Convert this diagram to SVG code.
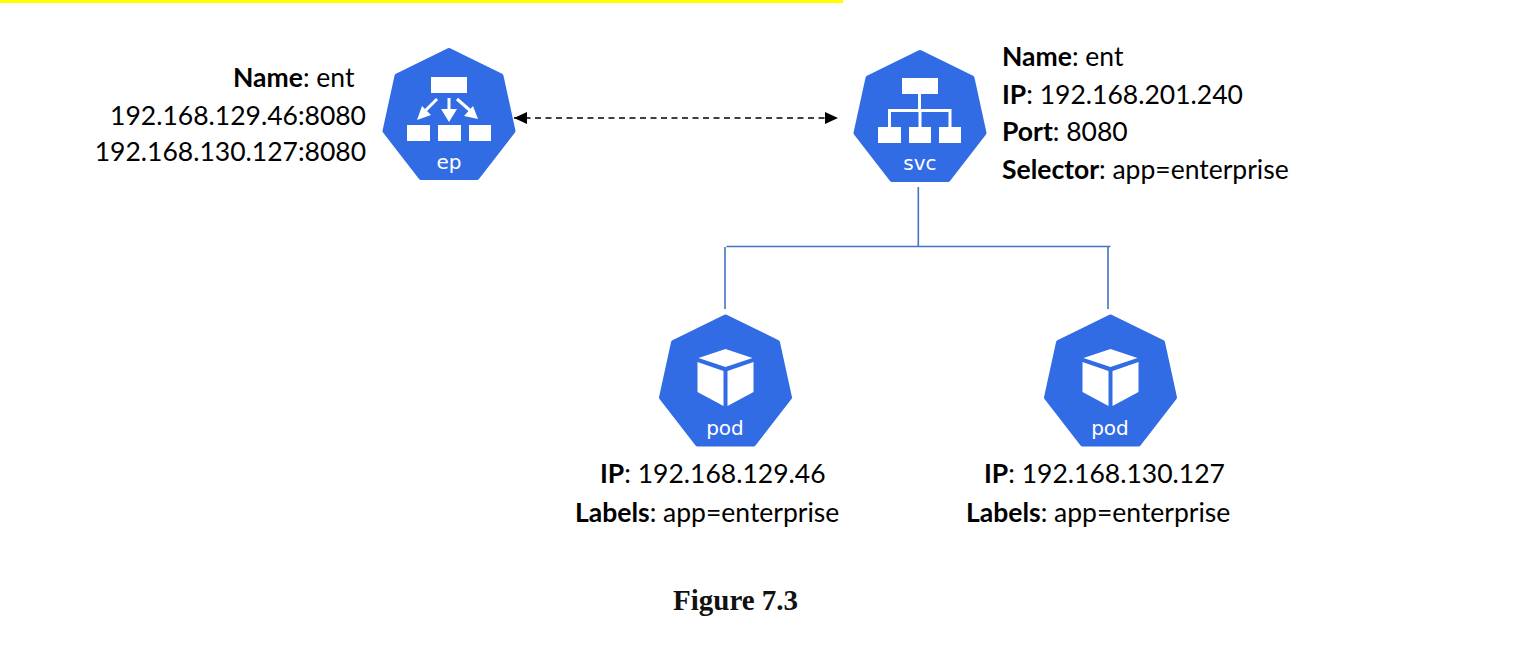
<svg xmlns="http://www.w3.org/2000/svg" width="1540" height="661" viewBox="0 0 1540 661">
<style>
.t{font-family:Lato,"Liberation Sans",sans-serif;font-size:26.5px;fill:#000}
.b{font-weight:700}
.h{fill:#326ce5;stroke:#326ce5;stroke-width:5;stroke-linejoin:round}
.k{font-family:"DejaVu Sans","Liberation Sans",sans-serif;font-size:20px;fill:#fff;text-anchor:middle}
.w{fill:#fff}
.wl{fill:none;stroke:#fff;stroke-width:3}
.c{fill:none;stroke:#4472c4;stroke-width:1.6}
</style>
<defs>
<polygon id="hept" class="h" points="0,2.5 52,28 64,83 28,129.500 -28,129.500 -64,83 -52,28"/>
<marker id="ah" markerUnits="userSpaceOnUse" markerWidth="14" markerHeight="14" refX="13" refY="7" orient="auto-start-reverse"><path d="M0,1 L13,7 L0,13 Z" fill="#000"/></marker>
<g id="cube">
<path class="w" d="M0,-21 L27,-12 L0,-3 L-27,-12 Z"/>
<path class="w" d="M-28,-8 L-2,1 L-2,36 L-28,22 Z"/>
<path class="w" d="M28,-8 L2,1 L2,36 L28,22 Z"/>
</g>
</defs>
<rect id="highlight" x="0" y="0" width="843" height="3" fill="#ffff00"/>
<g id="connectors">
<path class="c" d="M918.300 187V246"/>
<path class="c" d="M726.500 246.500H1110.500"/>
<path class="c" d="M725 247V309"/>
<path class="c" d="M1108 247V309"/>
<line x1="514" y1="118" x2="838" y2="118" stroke="#000" stroke-width="1.300" stroke-dasharray="6 4.500" marker-start="url(#ah)" marker-end="url(#ah)"/>
</g>
<g id="node-ep">
<use href="#hept" x="449" y="48"/>
<rect class="w" x="431" y="77" width="36" height="16"/>
<rect class="w" x="407" y="125" width="23" height="16"/>
<rect class="w" x="438" y="125" width="23" height="16"/>
<rect class="w" x="469" y="125" width="22" height="16"/>
<path class="wl" d="M437,99 L424,112"/><path class="w" d="M417,120 L422,106 L431,115 Z"/>
<path class="wl" d="M449,98 L449,110"/><path class="w" d="M449,122 L441,109 L457,109 Z"/>
<path class="wl" d="M457,99 L473,113"/><path class="w" d="M478,119 L464,116 L473,106 Z"/>
<text class="k" x="449" y="169">ep</text>
<text class="t b" x="233" y="87">Name<tspan font-weight="400">: ent</tspan></text>
<text class="t" x="366" y="125" text-anchor="end">192.168.129.46:8080</text>
<text class="t" x="366" y="161" text-anchor="end">192.168.130.127:8080</text>
</g>
<g id="node-svc">
<use href="#hept" x="920" y="50"/>
<rect class="w" x="902" y="78" width="36" height="16"/>
<rect class="w" x="878" y="127" width="23" height="16"/>
<rect class="w" x="909" y="127" width="22" height="16"/>
<rect class="w" x="939" y="127" width="22" height="16"/>
<path class="wl" d="M919.500,94V111M889.500,127V110.500H950V127M920,111V127"/>
<text class="k" x="920" y="170">svc</text>
<text class="t b" x="1002" y="66">Name<tspan font-weight="400">: ent</tspan></text>
<text class="t b" x="1002" y="104">IP<tspan font-weight="400">: 192.168.201.240</tspan></text>
<text class="t b" x="1002" y="141">Port<tspan font-weight="400">: 8080</tspan></text>
<text class="t b" x="1002" y="179">Selector<tspan font-weight="400">: app=enterprise</tspan></text>
</g>
<g id="node-pod1">
<use href="#hept" x="725.500" y="314.500"/>
<use href="#cube" x="725.500" y="370"/>
<text class="k" x="725" y="435">pod</text>
<text class="t b" x="600" y="483">IP<tspan font-weight="400">: 192.168.129.46</tspan></text>
<text class="t b" x="575" y="522">Labels<tspan font-weight="400">: app=enterprise</tspan></text>
</g>
<g id="node-pod2">
<use href="#hept" x="1110.500" y="314.500"/>
<use href="#cube" x="1110.500" y="370"/>
<text class="k" x="1110" y="435">pod</text>
<text class="t b" x="984" y="483">IP<tspan font-weight="400">: 192.168.130.127</tspan></text>
<text class="t b" x="966" y="522">Labels<tspan font-weight="400">: app=enterprise</tspan></text>
</g>
<text id="caption" x="673" y="610" font-family="'Liberation Serif',serif" font-size="29" font-weight="700" fill="#111">Figure 7.3</text>
</svg>
